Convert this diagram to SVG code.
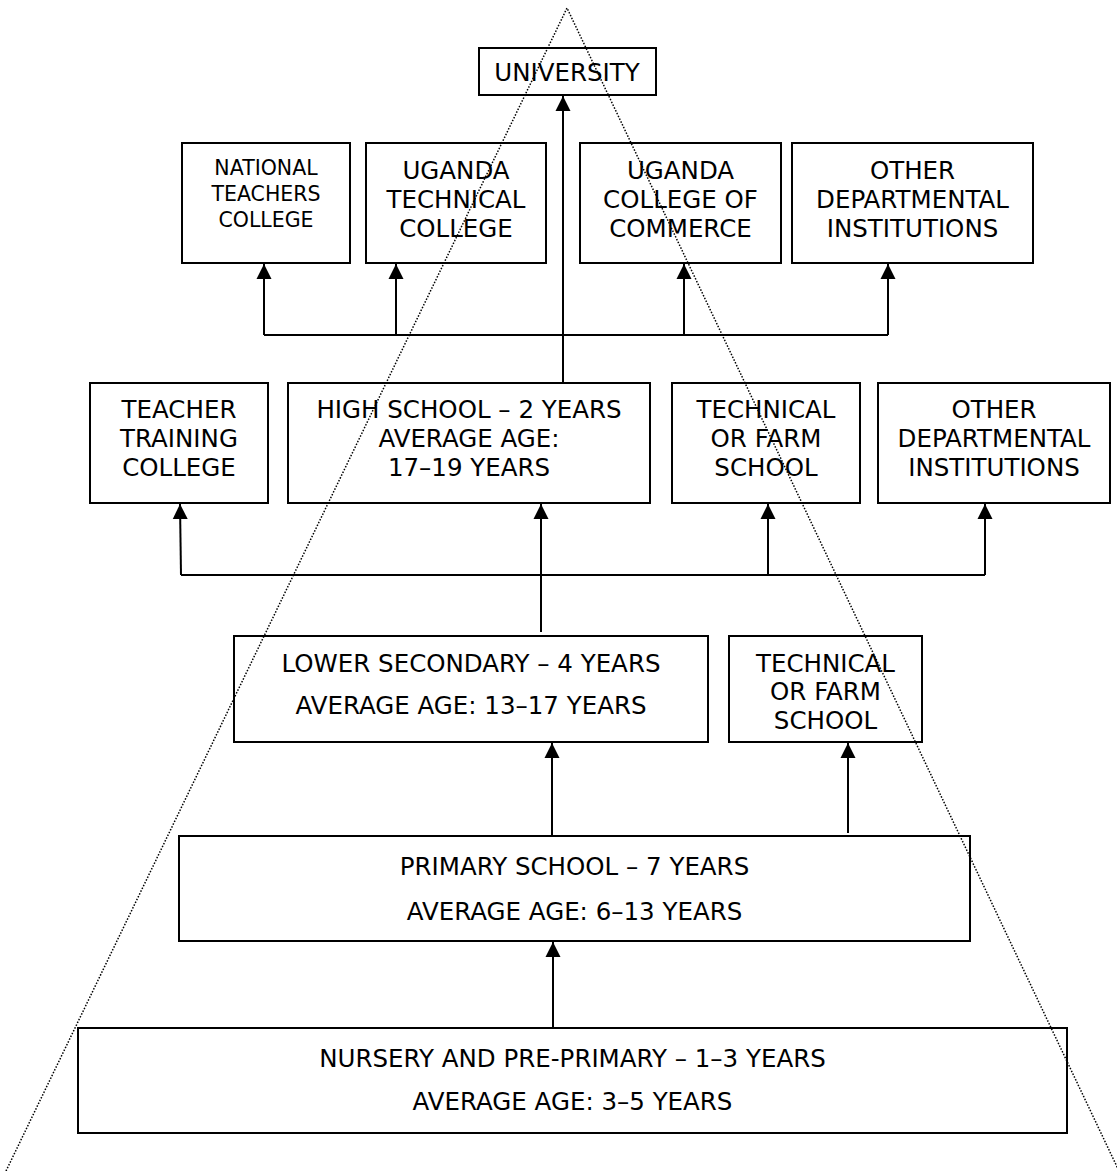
<svg xmlns="http://www.w3.org/2000/svg" width="1117" height="1171" viewBox="0 0 1117 1171">
<defs>
<marker id="arr" markerUnits="userSpaceOnUse" markerWidth="16" markerHeight="16" refX="15" refY="8" orient="auto">
<path d="M0,0.5 L15,8 L0,15.5 z" fill="#000"/>
</marker>
<style>
.box{fill:#fff;stroke:#000;stroke-width:2}
.t{font-family:"DejaVu Sans","Verdana",sans-serif;font-size:24.5px;fill:#000;text-anchor:middle}
.s{font-size:20.5px}
.ln{fill:none;stroke:#000;stroke-width:2}
.dot{fill:none;stroke:#000;stroke-width:1.5;stroke-dasharray:1.5 1.6}
</style>
</defs>
<rect width="1117" height="1171" fill="#fff"/>

<g id="university"><rect class="box" x="479" y="48" width="177" height="47"/><text class="t" x="567" y="81">UNIVERSITY</text></g>

<g id="ntc"><rect class="box" x="182" y="143" width="168" height="120"/>
<text class="t s" x="266" y="175">NATIONAL</text><text class="t s" x="266" y="201">TEACHERS</text><text class="t s" x="266" y="227">COLLEGE</text></g>
<g id="utc"><rect class="box" x="366" y="143" width="180" height="120"/>
<text class="t" x="456" y="179">UGANDA</text><text class="t" x="456" y="208">TECHNICAL</text><text class="t" x="456" y="237">COLLEGE</text></g>
<g id="ucc"><rect class="box" x="580" y="143" width="201" height="120"/>
<text class="t" x="680.5" y="179">UGANDA</text><text class="t" x="680.5" y="208">COLLEGE OF</text><text class="t" x="680.5" y="237">COMMERCE</text></g>
<g id="odi1"><rect class="box" x="792" y="143" width="241" height="120"/>
<text class="t" x="912.5" y="179">OTHER</text><text class="t" x="912.5" y="208">DEPARTMENTAL</text><text class="t" x="912.5" y="237">INSTITUTIONS</text></g>

<g id="ttc"><rect class="box" x="90" y="383" width="178" height="120"/>
<text class="t" x="179" y="418">TEACHER</text><text class="t" x="179" y="447">TRAINING</text><text class="t" x="179" y="476">COLLEGE</text></g>
<g id="hs"><rect class="box" x="288" y="383" width="362" height="120"/>
<text class="t" x="469" y="418">HIGH SCHOOL – 2 YEARS</text><text class="t" x="469" y="447">AVERAGE AGE:</text><text class="t" x="469" y="476">17–19 YEARS</text></g>
<g id="tfs1"><rect class="box" x="672" y="383" width="188" height="120"/>
<text class="t" x="766" y="418">TECHNICAL</text><text class="t" x="766" y="447">OR FARM</text><text class="t" x="766" y="476">SCHOOL</text></g>
<g id="odi2"><rect class="box" x="878" y="383" width="232" height="120"/>
<text class="t" x="994" y="418">OTHER</text><text class="t" x="994" y="447">DEPARTMENTAL</text><text class="t" x="994" y="476">INSTITUTIONS</text></g>

<g id="ls"><rect class="box" x="234" y="636" width="474" height="106"/>
<text class="t" x="471" y="672">LOWER SECONDARY – 4 YEARS</text><text class="t" x="471" y="714">AVERAGE AGE: 13–17 YEARS</text></g>
<g id="tfs2"><rect class="box" x="729" y="636" width="193" height="106"/>
<text class="t" x="825.5" y="672">TECHNICAL</text><text class="t" x="825.5" y="700">OR FARM</text><text class="t" x="825.5" y="729">SCHOOL</text></g>

<g id="primary"><rect class="box" x="179" y="836" width="791" height="105"/>
<text class="t" x="574.5" y="875">PRIMARY SCHOOL – 7 YEARS</text><text class="t" x="574.5" y="920">AVERAGE AGE: 6–13 YEARS</text></g>

<g id="nursery"><rect class="box" x="78" y="1028" width="989" height="105"/>
<text class="t" x="572.5" y="1067">NURSERY AND PRE-PRIMARY – 1–3 YEARS</text><text class="t" x="572.5" y="1110">AVERAGE AGE: 3–5 YEARS</text></g>

<g id="connectors">
<path class="ln" d="M563,383 L563,96" marker-end="url(#arr)"/>
<path class="ln" d="M264,335 L888,335"/>
<path class="ln" d="M264,335 L264,264" marker-end="url(#arr)"/>
<path class="ln" d="M396,335 L396,264" marker-end="url(#arr)"/>
<path class="ln" d="M684,335 L684,264" marker-end="url(#arr)"/>
<path class="ln" d="M888,335 L888,264" marker-end="url(#arr)"/>
<path class="ln" d="M181,575 L985,575"/>
<path class="ln" d="M181,575 L180,504" marker-end="url(#arr)"/>
<path class="ln" d="M541,632 L541,504" marker-end="url(#arr)"/>
<path class="ln" d="M768,575 L768,504" marker-end="url(#arr)"/>
<path class="ln" d="M985,575 L985,504" marker-end="url(#arr)"/>
<path class="ln" d="M552,836 L552,743" marker-end="url(#arr)"/>
<path class="ln" d="M848,833 L848,743" marker-end="url(#arr)"/>
<path class="ln" d="M553,1028 L553,942" marker-end="url(#arr)"/>
</g>

<g id="pyramid">
<path class="dot" d="M6,1171 L567,8 L1119,1171"/>
</g>
</svg>
